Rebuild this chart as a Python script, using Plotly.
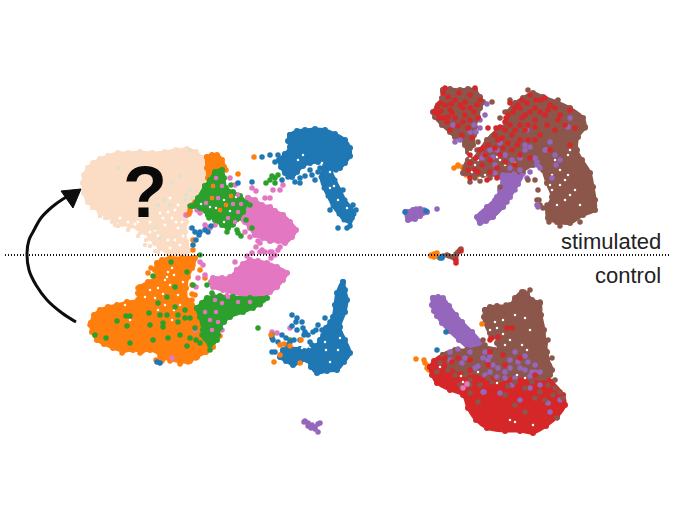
import plotly.graph_objects as go

ORANGE="#ff7f0e"; GREEN="#2ca02c"; PINK="#e377c2"; BLUE="#1f77b4"; RED="#d62728"; BROWN="#8c564b"; PURPLE="#9467bd"; PEACH="#fbdcc4"

# cluster bodies (x, y in picture pixels)
peach_body=[(83,183),(84,175),(88,168),(93,163),(100,159),(108,156),(118,153),(128,153),(140,152),(152,153),(165,152),(176,150),(187,149),(196,152),(202,158),(206,165),(206,173),(205,182),(201,192),(196,199),(190,205),(187,212),(186,222),(185,232),(186,242),(189,250),(186,254),(175,254),(167,252),(160,248),(155,243),(150,238),(145,232),(138,228),(130,226),(122,224),(115,220),(108,217),(100,212),(94,207),(88,202),(84,193)]
peach_pts=[(100,216),(112,222),(118,226),(128,230),(138,236),(146,240),(150,246),(158,252),(133,226),(122,222),(108,214),(184,215),(190,228),(187,245),(180,250),(92,208),(140,233),(165,235),(145,245),(155,251),(115,225),(105,218)]
peach_gaps=[(135,224),(142,216),(150,222),(170,198),(178,205),(160,213),(165,225),(172,218),(178,228),(183,236),(168,240),(158,236),(150,232),(175,240),(148,210),(168,212),(182,222),(138,222),(128,222),(120,218),(155,230),(175,210),(163,218),(176,222),(180,245),(170,248)]
peach_tint=[(118,168),(190,150),(185,200),(190,190),(165,200),(170,205),(158,205),(155,228),(160,238),(172,183),(180,176),(186,195),(192,198)]

orange_top=[(207,157),(212,155),(217,155),(222,160),(224,167),(218,175),(213,182),(210,185),(208,178),(207,168)]
orange_top_pts=[(254,157),(238,174),(209,190),(205,198),(192,205),(190,210),(189,214),(195,202),(226,170),(215,190),(212,205),(216,215),(225,195),(193,240),(193,250),(192,258),(213,200),(220,190),(211,188)]
green_top=[(205,186),(210,180),(215,172),(222,170),(224,178),(226,188),(233,192),(240,196),(246,203),(243,212),(238,219),(233,224),(228,228),(222,225),(215,220),(208,215),(200,208),(193,206),(198,198)]
green_top_pts=[(250,205),(252,228),(241,236),(233,225),(227,232),(190,206),(209,218),(212,212),(238,233),(270,180),(266,183),(275,178),(278,175),(272,176),(275,183),(237,230),(246,220),(222,170),(231,185)]
mix_green_top=[(213,186),(222,186),(218,198),(226,205),(233,204),(238,212),(212,198),(228,218),(235,222),(220,210),(206,203),(241,204),(231,196),(216,178)]
mix_green_gaps=[(210,207),(216,208),(224,200),(230,211),(240,222),(224,222),(201,204),(236,197)]
pink_top=[(248,198),(255,200),(262,205),(270,207),(275,211),(283,215),(290,222),(296,230),(292,237),(285,243),(278,241),(270,241),(263,238),(255,235),(250,228),(245,222),(242,215),(243,207)]
pink_top_pts=[(238,195),(230,178),(235,185),(220,182),(222,200),(209,205),(200,213),(197,210),(190,212),(187,215),(215,225),(205,225),(210,228),(186,215),(206,227),(256,247),(262,250),(270,252),(278,250),(275,255),(252,253),(265,252),(260,243),(280,247),(238,212),(226,205),(280,190),(283,185),(273,190),(270,198),(265,198),(252,188),(256,191),(240,220),(230,215),(236,205),(222,212),(216,205),(245,232),(250,237),(258,241)]
blue_top=[(290,135),(297,131),(305,130),(315,129),(325,130),(335,134),(345,140),(350,148),(350,156),(345,163),(340,168),(331,169),(325,162),(318,162),(310,163),(303,166),(297,172),(292,177),(285,173),(281,167),(279,160),(285,154),(290,147),(288,141)]
blue_tail=[(325,165),(331,172),(335,180),(340,190),(345,200),(351,208),(354,214),(350,222),(344,220),(339,214),(333,206),(328,196),(324,188),(321,177)]
blue_top_pts=[(262,157),(270,155),(275,162),(282,180),(295,182),(300,183),(315,180),(325,178),(310,170),(318,172),(356,210),(352,218),(350,226),(347,228),(338,228),(353,205),(343,190),(336,170),(300,178),(288,177),(195,232),(199,235),(205,230),(211,226),(192,228),(196,240),(200,232),(193,245),(208,232),(238,183),(252,182),(278,155),(285,154),(305,176),(312,175),(320,168),(330,210)]
blue_top_white=[(298,160),(306,172),(322,163),(330,172),(318,168),(303,155),(330,188),(338,200),(334,186),(347,208)]

orange_bot=[(91,323),(94,315),(100,310),(108,307),(117,305),(127,302),(138,300),(138,293),(140,287),(148,282),(157,277),(155,270),(157,263),(162,260),(170,258),(182,258),(195,258),(192,268),(188,277),(186,288),(187,300),(192,305),(197,310),(205,316),(213,323),(215,335),(213,347),(206,352),(197,357),(190,361),(180,362),(170,359),(160,354),(150,350),(142,351),(133,350),(123,351),(113,348),(104,344),(97,340),(92,332)]
orange_bot_pts=[(148,273),(151,268),(138,288),(130,310),(220,336),(205,352),(196,358),(188,362),(170,361),(160,357),(193,265),(192,285),(195,295),(192,300),(148,286),(90,325),(96,335),(122,353),(140,353),(165,358),(180,364),(200,270),(205,278),(192,294)]
orange_white=[(168,272),(172,268),(165,280),(150,290),(158,288),(170,285),(174,275),(178,295),(183,282),(174,310),(158,310),(125,305),(130,320),(180,305),(165,305),(172,320),(145,297),(155,298),(163,294),(167,277)]
green_bot=[(197,308),(202,303),(207,298),(220,296),(233,297),(250,298),(267,298),(260,304),(253,308),(243,312),(230,317),(224,322),(220,328),(218,335),(217,340),(210,345),(205,338),(203,330),(200,317)]
green_bot_pts=[(117,321),(106,338),(126,316),(130,316),(127,326),(130,343),(150,325),(160,315),(163,323),(163,327),(167,315),(190,318),(178,322),(180,335),(187,346),(190,338),(200,343),(202,335),(153,340),(168,338),(95,335),(158,303),(149,313),(175,307),(185,318),(195,328),(207,340),(171,262),(153,276),(175,287),(167,297),(187,272),(200,255),(193,285),(207,285),(212,293),(196,340),(210,350),(258,328),(272,335),(290,340),(185,310),(178,315)]
pink_bot=[(237,270),(243,264),(250,260),(258,261),(267,263),(277,267),(287,273),(283,280),(277,287),(270,292),(263,297),(250,296),(233,293),(223,290),(213,287),(211,282),(213,278),(222,278),(230,277)]
pink_bot_pts=[(200,262),(203,265),(198,278),(205,275),(196,287),(210,302),(217,305),(230,303),(225,310),(260,305),(222,330),(272,332),(290,328),(277,333),(260,252),(272,252),(195,330),(172,358),(340,317),(235,262),(247,256),(271,258),(213,295)]
pink_on_green=[(215,300),(222,303),(228,297),(238,302),(216,312),(218,322),(212,330),(227,295),(233,290),(225,288),(240,290),(205,312),(210,320),(250,302)]
blue_bot=[(343,282),(345,290),(347,300),(345,312),(340,327),(345,340),(350,353),(344,362),(337,370),(327,371),(317,373),(311,367),(307,360),(300,362),(293,365),(286,361),(280,357),(283,350),(290,348),(300,349),(310,350),(316,346),(320,340),(326,328),(333,317),(335,305),(337,293)]
blue_bot_pts=[(292,315),(297,318),(302,322),(297,330),(305,332),(300,340),(308,335),(313,332),(303,328),(292,326),(282,335),(272,338),(278,342),(294,340),(287,345),(290,342),(275,352),(318,325),(322,330),(330,322),(325,318),(312,345),(286,338),(310,342),(272,352),(323,335),(273,340),(296,322),(304,335),(316,330)]
blue_white=[(306,345),(302,348),(310,347),(316,335),(325,342),(326,350),(338,350),(340,338),(330,362)]
blue_bot_orange=[(274,362),(280,355),(284,344),(290,346),(301,340),(271,335),(280,345),(300,363)]
bot_small_blue=[(160,363),(157,362)]
bot_small_orange=[(156,360),(160,360),(162,361)]
bot_small_purple=[(305,421),(308,423),(312,425),(315,427),(311,428),(318,424),(320,423),(318,432),(315,429),(308,426),(304,422)]

purple_blob=[(406,212),(413,210),(420,209),(427,212),(420,216),(415,219),(408,220)]
purple_blob_pts=[(416,209),(424,210),(437,209),(410,216),(413,218)]
blob_blue=[(405,212),(426,211)]

brown_l=[(443,90),(450,89),(460,90),(468,89),(475,90),(480,97),(483,102),(480,108),(478,117),(475,127),(474,135),(473,145),(468,152),(465,145),(460,138),(455,137),(450,132),(442,125),(435,117),(433,112),(438,105),(442,98)]
brown_main=[(472,160),(480,150),(487,140),(497,130),(507,123),(508,112),(515,103),(523,98),(533,93),(543,97),(557,102),(570,108),(583,118),(585,127),(578,137),(577,150),(582,160),(590,173),(593,187),(595,200),(595,210),(583,215),(570,223),(557,222),(548,218),(547,208),(552,197),(547,183),(543,170),(542,163),(533,165),(523,170),(510,170),(497,175),(483,175),(470,175),(463,173),(468,160)]
brown_pts=[(492,102),(477,150),(470,148),(478,142),(465,172),(475,178),(500,187),(535,180),(538,190),(537,200),(540,205),(539,200),(543,208),(528,180),(467,165),(500,118),(505,112),(510,100),(528,90),(558,100),(585,128),(549,222),(580,222),(560,226),(592,192),(547,205),(490,178),(496,170),(518,172),(480,181),(470,182)]
red_top=[(445,88),(445,105),(438,113),(443,118),(450,110),(455,100),(460,105),(465,115),(470,95),(477,105),(450,130),(462,135),(470,120),(472,138),(455,118),(440,103),(448,97),(475,88),(480,100),(478,118),(468,128),(437,107),(441,111),(447,122),(452,113),(459,93),(465,102),(470,108),(474,112),(458,126),(463,122),(443,93),(434,112),(439,118),(448,117),(451,104),(463,108),
(506,118),(515,108),(522,100),(530,95),(536,100),(545,98),(555,108),(560,115),(545,115),(535,120),(525,115),(520,125),(512,135),(505,130),(498,140),(495,148),(488,145),(480,150),(476,158),(470,163),(482,165),(490,160),(500,155),(512,150),(520,155),(528,140),(540,135),(555,130),(565,125),(575,128),(570,145),(550,150),(530,158),(515,165),(505,162),(490,172),(478,172),(470,178),(487,180),(497,178),(570,110),(517,145),(547,125),(528,125),(503,148),(488,128),(496,128),(505,122),(510,103),(513,112),(518,105),(527,103),(535,108),(540,112),(550,105),(530,112),(522,118),(510,125),(515,130),(525,130),(535,127),(502,138),(508,143),(520,140),(495,135),(485,155),(475,170),(468,170),(497,168),(483,148),(470,155),(520,108),(508,115),(500,127),(541,100),(548,110),(558,120),(535,140)]
purple_top=[(485,115),(487,104),(474,125),(480,120),(453,125),(455,142),(460,140),(480,128),(497,150),(500,143),(505,155),(512,160),(520,158),(525,150),(530,147),(527,130),(550,142),(570,118),(568,127),(546,150),(555,155),(556,165),(540,168),(545,150),(535,158),(493,157),(495,165),(482,158),(490,150),(510,168),(525,145),(537,162),(520,170),(515,175),(495,173),(530,172),(552,178),(537,165),(560,160),(470,132),(476,132),(484,155),(503,175),(537,205),(538,207)]
white_top=[(500,160),(497,157),(478,160),(475,165),(515,163),(505,165),(555,160),(570,150),(568,155),(552,175),(565,180),(550,185),(568,175),(575,190),(565,200),(560,185),(552,190),(470,152),(470,158),(480,178),(472,172),(485,175),(560,170),(570,195),(557,205),(580,205)]
purple_diag=[(498,173),(510,173),(523,173),(518,184),(510,197),(503,207),(493,217),(486,221),(480,223),(477,217),(487,207),(497,197),(500,190),(503,183)]
purple_diag_pts=[(527,178),(515,190),(495,200),(489,207),(500,195),(507,202),(516,176)]
orange_r=[(454,168),(458,166),(462,167),(458,165),(465,170),(468,172),(470,175),(474,174),(478,175),(466,175),(470,170)]

mid_orange=[(431,255),(434,254),(437,256),(434,257),(437,253),(439,257),(431,256)]
mid_blue=[(440,258),(443,256),(442,258)]
mid_brown=[(447,255),(449,256),(456,254),(458,252),(460,250),(461,249),(455,259),(452,257),(456,256)]
mid_red=[(456,263),(456,260),(461,251)]

purple_bot=[(433,298),(438,297),(443,298),(449,306),(456,315),(462,322),(472,332),(482,344),(484,350),(480,356),(474,353),(468,348),(459,340),(449,331),(442,323),(437,316),(434,311),(432,305)]
brown_bot=[(485,310),(490,307),(497,306),(510,305),(515,298),(522,292),(527,294),(532,300),(540,303),(541,315),(544,330),(545,343),(547,352),(547,360),(533,360),(515,357),(500,350),(497,343),(497,337),(490,333),(485,323),(484,317)]
brown_bot_white=[(497,328),(495,322),(503,334),(490,330),(503,320),(530,330),(527,350),(522,345),(510,340),(505,345),(515,315),(525,318)]
brown_bot_pts=[(490,312),(483,340),(485,345),(491,337),(495,350),(552,358),(548,365),(545,352),(540,303),(530,290),(524,292),(537,325),(545,345),(539,347),(548,340),(505,310),(506,305),(540,302)]
red_bot=[(430,367),(434,361),(443,355),(458,356),(475,358),(500,360),(520,362),(540,370),(552,382),(563,395),(565,405),(557,417),(546,426),(533,433),(520,431),(505,431),(487,428),(476,420),(468,408),(463,395),(450,390),(437,383),(432,375)]
brown_band=[(443,355),(455,350),(467,350),(483,347),(500,350),(515,354),(530,357),(547,360),(552,370),(550,375),(540,378),(530,378),(520,375),(507,376),(495,375),(482,374),(470,372),(458,369),(450,365)]
purple_band=[(450,352),(458,349),(470,352),(485,352),(488,360),(493,365),(510,360),(515,352),(525,356),(535,365),(540,372),(530,376),(520,368),(505,372),(490,372),(475,368),(462,363),(450,360),(478,366),(498,368),(518,362),(532,372),(485,375),(505,378),(515,378),(497,377),(483,392),(512,385),(530,388),(540,385),(560,400),(548,403),(550,412),(520,400),(500,393),(484,392),(490,356),(483,358),(528,362),(535,372),(510,368),(465,358),(525,370)]
brown_on_red=[(437,372),(448,370),(455,375),(470,380),(480,385),(492,382),(500,380),(515,382),(525,388),(532,382),(540,392),(548,385),(555,388),(470,393),(478,402),(505,395),(515,405),(535,398),(545,400),(525,412),(557,418),(553,395),(560,392),(440,363),(460,385),(465,375),(488,378),(508,386),(545,378),(555,380),(563,398),(470,385)]
red_on_brown=[(458,358),(470,360),(490,352),(503,355),(520,358),(505,365),(470,370),(452,362),(488,365),(535,375),(445,358)]
white_bot=[(461,376),(463,382),(468,385),(478,372),(497,383),(517,375),(525,378),(510,420),(515,422),(533,425),(440,367)]
orange_bot_r=[(416,359),(424,360),(425,363),(428,366),(427,368),(436,362),(429,370),(442,385),(529,427)]
blue_r=[(446,332),(437,350)]
pink_r=[(463,388),(467,384)]
orange_r2=[(482,324)]
red_in_brown=[(492,338),(498,337),(507,328),(512,328),(490,340)]

arrow_x=[76,62,47,36,29,27,29,33,41,52,63,72]
arrow_y=[322,313,300,285,270,253,240,232,218,207,199,194]
head_x=[81,61,73]
head_y=[189,191,208]
line_x=[5,670]
line_y=[255,255]

fig=go.Figure()
def body(pts,color,size=6,lw=3):
    fig.add_trace(go.Scatter(x=[p[0] for p in pts]+[pts[0][0]],y=[p[1] for p in pts]+[pts[0][1]],mode="lines+markers",fill="toself",fillcolor=color,line=dict(color=color,width=lw,shape="spline"),marker=dict(color=color,size=size)))
def dots(pts,color,size=5.5):
    fig.add_trace(go.Scatter(x=[p[0] for p in pts],y=[p[1] for p in pts],mode="markers",marker=dict(color=color,size=size,line=dict(width=0))))

body(peach_body,PEACH); dots(peach_pts,PEACH,4.5); dots(peach_gaps,"#ffffff",3); dots(peach_tint,"#dbe3cf",4)
body(pink_top,PINK); dots(pink_top_pts,PINK)
body(orange_top,ORANGE); dots(orange_top_pts,ORANGE)
body(green_top,GREEN); dots(mix_green_gaps,"#ffffff",2.5); dots(green_top_pts,GREEN); dots(pink_top_pts[:3],PINK,4.5); dots(mix_green_top,PINK,4.5); dots(mix_green_top[::3],ORANGE,4.5)
body(blue_top,BLUE); body(blue_tail,BLUE,5,3); dots(blue_top_white,"#ffffff",2.5); dots(blue_top_pts,BLUE)
body(orange_bot,ORANGE); dots(orange_white,"#ffffff",2.5); dots(orange_bot_pts,ORANGE)
body(pink_bot,PINK); dots(pink_bot_pts,PINK)
body(green_bot,GREEN); dots(green_bot_pts,GREEN); dots(pink_on_green,PINK,4.5)
body(blue_bot,BLUE); dots(blue_white,"#ffffff",2.5); dots(blue_bot_pts,BLUE); dots(blue_bot_orange,ORANGE)
dots(bot_small_orange,ORANGE); dots(bot_small_blue,BLUE); dots(bot_small_purple,PURPLE)
dots(purple_blob_pts,PURPLE); body(purple_blob,PURPLE); dots(blob_blue,BLUE)
body(purple_diag,PURPLE); dots(purple_diag_pts,PURPLE)
dots(orange_r,ORANGE)
body(brown_l,BROWN); body(brown_main,BROWN); dots(brown_pts,BROWN)
dots(white_top,"#ffffff",2.5); dots(purple_top,PURPLE); dots(red_top,RED)
dots(mid_orange,ORANGE); dots(mid_blue,BLUE); dots(mid_brown,BROWN); dots(mid_red,RED)
body(purple_bot,PURPLE); dots(orange_bot_r,ORANGE); dots(blue_r,BLUE)
body(brown_bot,BROWN); dots(brown_bot_white,"#ffffff",2.5); dots(brown_bot_pts,BROWN); dots(red_in_brown,RED); dots(orange_r2,ORANGE)
body(red_bot,RED); body(brown_band,BROWN); dots(purple_band,PURPLE); dots(red_on_brown,RED); dots(brown_on_red,BROWN); dots(white_bot,"#ffffff",2.5); dots(pink_r,PINK)

fig.add_trace(go.Scatter(x=line_x,y=line_y,mode="lines",line=dict(color="#111111",width=2,dash="1px 2px")))
fig.add_trace(go.Scatter(x=arrow_x,y=arrow_y,mode="lines",line=dict(color="#0d0d0d",width=3,shape="spline")))
fig.add_trace(go.Scatter(x=head_x+head_x[:1],y=head_y+head_y[:1],mode="lines",fill="toself",fillcolor="#0d0d0d",line=dict(color="#0d0d0d",width=1)))

fig.add_annotation(x=145,y=192,text="<b>?</b>",showarrow=False,font=dict(family="Liberation Sans",size=72,color="#0a0a0a"),xanchor="center",yanchor="middle")
fig.add_annotation(x=663,y=241,text="stimulated",showarrow=False,font=dict(family="Liberation Sans",size=22,color="#222222"),xanchor="right",yanchor="middle")
fig.add_annotation(x=663,y=275,text="control",showarrow=False,font=dict(family="Liberation Sans",size=22,color="#222222"),xanchor="right",yanchor="middle")

fig.update_layout(width=680,height=513,margin=dict(l=0,r=0,t=0,b=0),paper_bgcolor="white",plot_bgcolor="white",showlegend=False,
 xaxis=dict(range=[0,680],visible=False,fixedrange=True),yaxis=dict(range=[513,0],visible=False,fixedrange=True))
fig.write_html("out.html",config=dict(displayModeBar=False),post_script="document.body.style.margin='0';document.documentElement.style.overflow='hidden';")
